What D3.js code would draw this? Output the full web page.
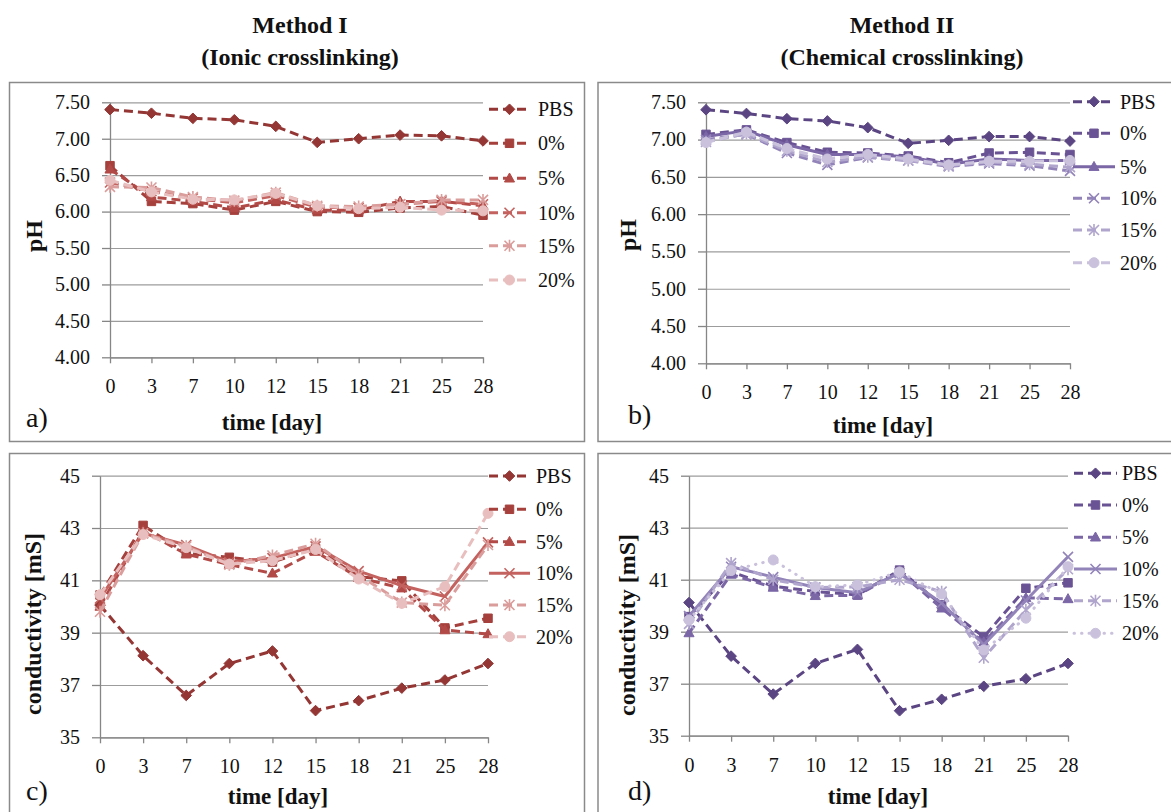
<!DOCTYPE html>
<html><head><meta charset="utf-8">
<script src="https://cdn.jsdelivr.net/npm/d3@7"></script>
<style>
body{margin:0;background:#fff}
svg{display:block}
text{font-family:"Liberation Serif","DejaVu Serif",serif;fill:#111}
</style>
</head><body>
<svg id="chart" width="1171" height="812"></svg>
<script>
// ---------- data ----------
const days = ["0","3","7","10","12","15","18","21","25","28"];
const seriesNames = ["PBS","0%","5%","10%","15%","20%"];
const phTicks = [4.00,4.50,5.00,5.50,6.00,6.50,7.00,7.50];
const condTicks = [35,37,39,41,43,45];

// a) pH, Method I (ionic crosslinking)
const phIonicPBS = [7.40,7.35,7.28,7.26,7.17,6.95,7.00,7.05,7.04,6.97];
const phIonic0   = [6.63,6.14,6.11,6.02,6.14,6.00,5.99,6.05,6.07,5.95];
const phIonic5   = [6.58,6.20,6.14,6.05,6.16,6.02,6.02,6.14,6.14,6.08];
const phIonic10  = [6.40,6.28,6.18,6.12,6.22,6.06,6.05,6.10,6.14,6.10];
const phIonic15  = [6.34,6.33,6.20,6.15,6.26,6.08,6.07,6.10,6.16,6.16];
const phIonic20  = [6.43,6.27,6.17,6.16,6.25,6.08,6.04,6.06,6.02,6.01];

// b) pH, Method II (chemical crosslinking)
const phChemPBS = [7.40,7.35,7.28,7.25,7.16,6.95,6.99,7.04,7.04,6.98];
const phChem0   = [7.07,7.13,6.96,6.83,6.82,6.78,6.69,6.82,6.83,6.80];
const phChem5   = [7.04,7.12,6.93,6.80,6.80,6.77,6.67,6.74,6.72,6.72];
const phChem10  = [7.00,7.07,6.82,6.66,6.76,6.72,6.64,6.68,6.65,6.58];
const phChem15  = [6.97,7.08,6.85,6.70,6.77,6.72,6.65,6.70,6.67,6.63];
const phChem20  = [6.96,7.10,6.88,6.74,6.80,6.74,6.66,6.71,6.71,6.72];

// c) conductivity, Method I
const condIonicPBS = [40.05,38.12,36.60,37.82,38.30,36.02,36.40,36.88,37.19,37.82];
const condIonic0   = [40.44,43.10,42.03,41.88,41.70,42.22,41.14,40.98,39.18,39.55];
const condIonic5   = [40.00,42.90,42.00,41.60,41.27,42.10,41.10,40.70,39.10,38.95];
const condIonic10  = [40.30,42.80,42.35,41.70,41.85,42.30,41.35,40.80,40.38,42.45];
const condIonic15  = [39.80,42.80,42.30,41.60,41.95,42.40,41.20,40.15,40.05,42.35];
const condIonic20  = [40.45,42.75,42.25,41.62,41.75,42.18,41.05,40.12,40.76,43.56];

// d) conductivity, Method II
const condChemPBS = [40.12,38.06,36.60,37.78,38.32,35.96,36.40,36.90,37.19,37.78];
const condChem0   = [39.58,41.30,40.75,40.55,40.41,41.37,40.03,38.80,40.67,40.88];
const condChem5   = [38.95,41.20,40.70,40.38,40.40,41.30,39.90,38.60,40.30,40.26];
const condChem10  = [39.60,41.50,41.10,40.70,40.50,41.25,40.10,38.50,40.20,41.88];
const condChem15  = [39.30,41.64,41.00,40.70,40.72,41.00,40.54,38.00,39.84,41.40];
const condChem20  = [39.45,41.35,41.76,40.73,40.80,41.30,40.45,38.30,39.52,41.50];

// ---------- styles ----------
const reds    = ["#943634","#A5403D","#B24A47","#C4625F","#DA9D9B","#E8BFBE"];
const purples = ["#5B4683","#6A5394","#7B66A6","#9283B9","#B0A5CC","#CAC2DD"];

const svg = d3.select("#chart");
svg.append("rect").attr("width",1171).attr("height",812).attr("fill","#fff");

// custom marker shapes
const mDiamond = {draw(c,s){const r=Math.sqrt(s)/1.5;c.moveTo(0,-r);c.lineTo(r,0);c.lineTo(0,r);c.lineTo(-r,0);c.closePath();}};
const mSquare  = {draw(c,s){const r=Math.sqrt(s)/2;c.rect(-r,-r,2*r,2*r);}};
const mTri     = {draw(c,s){const r=Math.sqrt(s)/1.6;c.moveTo(0,-r);c.lineTo(r*0.95,r*0.7);c.lineTo(-r*0.95,r*0.7);c.closePath();}};
const mTimes   = {draw(c,s){const r=Math.sqrt(s)/2;c.moveTo(-r,-r);c.lineTo(r,r);c.moveTo(-r,r);c.lineTo(r,-r);}};
const mStar    = {draw(c,s){const r=Math.sqrt(s)/2;c.moveTo(-r,-r);c.lineTo(r,r);c.moveTo(-r,r);c.lineTo(r,-r);c.moveTo(0,-r*1.2);c.lineTo(0,r*1.2);}};
const mCircle  = {draw(c,s){const r=Math.sqrt(s)/2;c.moveTo(r,0);c.arc(0,0,r,0,2*Math.PI);}};
const markers = [
  {type:mDiamond,size:64,fill:true},
  {type:mSquare,size:72,fill:true},
  {type:mTri,size:72,fill:true},
  {type:mTimes,size:100,fill:false},
  {type:mStar,size:100,fill:false},
  {type:mCircle,size:100,fill:true}
];
const DASH="9,5", DOT="0.5,7", SOLID=null;

const panels = [
  {key:"a", data:[phIonicPBS,phIonic0,phIonic5,phIonic10,phIonic15,phIonic20], colors:reds,
   dashes:[DASH,DASH,DASH,DASH,DASH,DASH], domain:[4,7.5], ticks:phTicks, fmt:d3.format(".2f"),
   x0:110,x1:483,yb:357.3,yt:102.3, frame:[9.5,82.5,575,359],
   ytitle:"pH", ytx:42, yty:236, xtitle:"time [day]", xtx:272, xty:430, lab:"a)", lx:26, ly:427,
   leg:{l0:489,l1:530,tx:538,ys:[109.3,143.3,178.3,212.7,245.7,280]}},
  {key:"b", data:[phChemPBS,phChem0,phChem5,phChem10,phChem15,phChem20], colors:purples,
   dashes:[DASH,DASH,SOLID,DASH,DASH,DASH], domain:[4,7.5], ticks:phTicks, fmt:d3.format(".2f"),
   x0:706,x1:1070,yb:363.3,yt:102.3, frame:[598,82.5,590,359],
   ytitle:"pH", ytx:636, yty:235, xtitle:"time [day]", xtx:883, xty:433, lab:"b)", lx:628, ly:424,
   leg:{l0:1073,l1:1115,tx:1120,ys:[101.7,133.3,166.7,198.3,230,262.7]}},
  {key:"c", data:[condIonicPBS,condIonic0,condIonic5,condIonic10,condIonic15,condIonic20], colors:reds,
   dashes:[DASH,DASH,DASH,SOLID,DASH,DASH], domain:[35,45], ticks:condTicks, fmt:d3.format("d"),
   x0:100,x1:488,yb:737.3,yt:475.7, frame:[9.5,453.5,575,370],
   ytitle:"conductivity [mS]", ytx:41, yty:624, xtitle:"time [day]", xtx:278, xty:804, lab:"c)", lx:26, ly:800,
   leg:{l0:489,l1:530,tx:536,ys:[476,509.3,541.7,573.3,605,636.7]}},
  {key:"d", data:[condChemPBS,condChem0,condChem5,condChem10,condChem15,condChem20], colors:purples,
   dashes:[DASH,DASH,DASH,SOLID,DASH,DOT], domain:[35,45], ticks:condTicks, fmt:d3.format("d"),
   x0:689,x1:1068,yb:735.7,yt:475.7, frame:[598,453.5,590,370],
   ytitle:"conductivity [mS]", ytx:635, yty:625, xtitle:"time [day]", xtx:878, xty:804, lab:"d)", lx:628, ly:800,
   leg:{l0:1074,l1:1117,tx:1122,ys:[473.3,505,537.3,569,600.7,633.3]}}
];

// titles
const titles = [
  {x:300,lines:["Method I","(Ionic crosslinking)"]},
  {x:902,lines:["Method II","(Chemical crosslinking)"]}
];
titles.forEach(t=>{
  t.lines.forEach((ln,i)=>{
    svg.append("text").attr("x",t.x).attr("y",33+i*32).attr("text-anchor","middle")
      .attr("font-size",24).attr("font-weight","bold").text(ln);
  });
});

function styleLine(sel,color,dash){
  sel.attr("fill","none").attr("stroke",color).attr("stroke-width",3)
     .attr("stroke-linejoin","round");
  if(dash===DOT){ sel.attr("stroke-dasharray",dash).attr("stroke-linecap","round"); }
  else if(dash){ sel.attr("stroke-dasharray",dash).attr("stroke-linecap","butt"); }
}
function drawMarker(g,mi,color,cx,cy){
  const m = markers[mi];
  const p = g.append("path").attr("d",d3.symbol().type(m.type).size(m.size)())
    .attr("transform",`translate(${cx},${cy})`);
  if(m.fill) p.attr("fill",color).attr("stroke",color).attr("stroke-width",1);
  else p.attr("fill","none").attr("stroke",color).attr("stroke-width",1.6);
}

panels.forEach(p=>{
  const g = svg.append("g");
  // frame
  g.append("rect").attr("x",p.frame[0]).attr("y",p.frame[1]).attr("width",p.frame[2]).attr("height",p.frame[3])
    .attr("fill","none").attr("stroke","#8a8a8a").attr("stroke-width",1.5);

  const x = d3.scalePoint().domain(days).range([p.x0,p.x1]).padding(0);
  const y = d3.scaleLinear().domain(p.domain).range([p.yb,p.yt]);

  // gridlines
  const grid = g.append("g").attr("transform",`translate(${p.x0},0)`)
    .call(d3.axisLeft(y).tickValues(p.ticks).tickSize(-(p.x1-p.x0)).tickFormat(""));
  grid.select(".domain").remove();
  grid.selectAll("line").attr("stroke","#9c9c9c").attr("stroke-width",1.2);

  // y axis
  const ya = g.append("g").attr("transform",`translate(${p.x0},0)`)
    .call(d3.axisLeft(y).tickValues(p.ticks).tickSize(8).tickSizeOuter(0).tickPadding(12).tickFormat(p.fmt));
  ya.select(".domain").attr("stroke","#868686").attr("stroke-width",1.3);
  ya.selectAll("line").attr("stroke","#868686").attr("stroke-width",1.3);
  ya.selectAll("text").attr("font-size",20).attr("fill","#111")
    .attr("font-family",'"Liberation Serif","DejaVu Serif",serif');

  // x axis
  const xa = g.append("g").attr("transform",`translate(0,${p.yb})`)
    .call(d3.axisBottom(x).tickSize(6).tickSizeOuter(0).tickPadding(16));
  xa.select(".domain").attr("stroke","#868686").attr("stroke-width",1.3);
  xa.selectAll("line").attr("stroke","#868686").attr("stroke-width",1.3);
  xa.selectAll("text").attr("font-size",20).attr("fill","#111")
    .attr("font-family",'"Liberation Serif","DejaVu Serif",serif');

  // series
  const line = d3.line().x((d,i)=>x(days[i])).y(d=>y(d));
  p.data.forEach((vals,si)=>{
    const col = p.colors[si];
    const sg = g.append("g");
    styleLine(sg.append("path").attr("d",line(vals)), col, p.dashes[si]);
    vals.forEach((v,i)=>drawMarker(sg,si,col,x(days[i]),y(v)));
  });

  // legend
  seriesNames.forEach((nm,si)=>{
    const col = p.colors[si], ly = p.leg.ys[si];
    const lg = g.append("g");
    styleLine(lg.append("line").attr("x1",p.leg.l0).attr("x2",p.leg.l1).attr("y1",ly).attr("y2",ly), col, p.dashes[si]);
    drawMarker(lg,si,col,(p.leg.l0+p.leg.l1)/2,ly);
    lg.append("text").attr("x",p.leg.tx).attr("y",ly).attr("dy","0.34em").attr("font-size",20).text(nm);
  });

  // axis titles
  g.append("text").attr("transform",`translate(${p.ytx},${p.yty}) rotate(-90)`).attr("text-anchor","middle")
    .attr("font-size",24).attr("font-weight","bold").text(p.ytitle);
  g.append("text").attr("x",p.xtx).attr("y",p.xty).attr("text-anchor","middle")
    .attr("font-size",23).attr("font-weight","bold").text(p.xtitle);
  // panel label
  g.append("text").attr("x",p.lx).attr("y",p.ly).attr("font-size",28).text(p.lab);
});
</script>
</body></html>
